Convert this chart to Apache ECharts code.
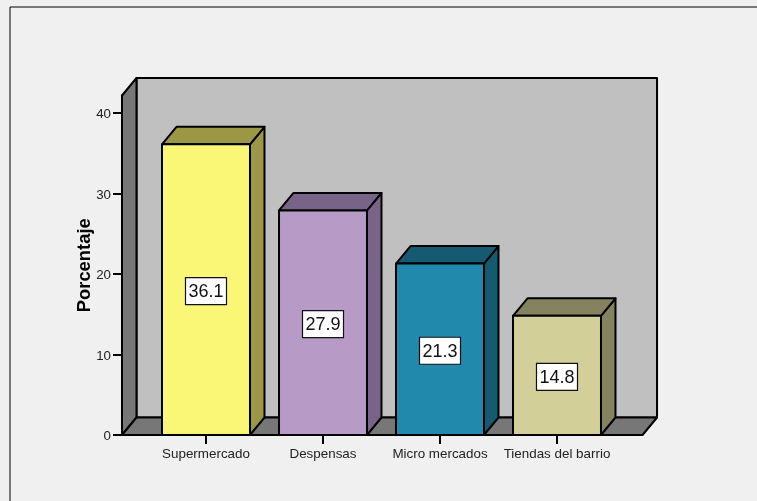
<!DOCTYPE html>
<html><head><meta charset="utf-8">
<style>html,body{margin:0;padding:0;background:#f0f0f0}#c{width:757px;height:501px}</style>
<script src="https://cdn.jsdelivr.net/npm/echarts@6/dist/echarts.min.js"></script>
</head><body><div id="c"></div>
<script>
const categories = ['Supermercado', 'Despensas', 'Micro mercados', 'Tiendas del barrio'];
const values = [36.1, 27.9, 21.3, 14.8];
const valueLabels = ['36.1', '27.9', '21.3', '14.8'];
const frontColors = ['#fbf776', '#b89ac7', '#2189ac', '#d3cf98'];
const sideColors = ['#9b9745', '#786488', '#165a72', '#84825f'];
const yMax = 42.17;
const DX = 14.5, DY = -17.5, BAR_FRAC = 0.752, LEFT_PAD = 0.718, RIGHT_PAD = 0.731;
const LW = 2, INK = '#000';

const chart = echarts.init(document.getElementById('c'), null, {renderer: 'canvas'});
const lineStyle = fill => ({fill, stroke: INK, lineWidth: LW, lineJoin: 'round'});
const poly = (points, fill) => ({type: 'polygon', shape: {points}, style: lineStyle(fill)});

function renderWalls(params, api) {
  const band = api.size([1, 0])[0];
  const o0 = api.coord([0, 0]), o3 = api.coord([3, 0]), t = api.coord([0, yMax]);
  const xl = o0[0] - LEFT_PAD * band, xr = o3[0] + RIGHT_PAD * band;
  const yb = o0[1], yt = t[1];
  return {type: 'group', children: [
    poly([[xl + DX, yb + DY], [xr + DX, yb + DY], [xr + DX, yt + DY], [xl + DX, yt + DY]], '#c0c0c0'),
    poly([[xl, yb], [xl + DX, yb + DY], [xl + DX, yt + DY], [xl, yt]], '#777777'),
    poly([[xl, yb], [xr, yb], [xr + DX, yb + DY], [xl + DX, yb + DY]], '#777777')
  ]};
}

function renderBar(params, api) {
  const i = api.value(0), v = api.value(1);
  const band = api.size([1, 0])[0];
  const base = api.coord([i, 0]), top = api.coord([i, v]);
  const w = band * BAR_FRAC, xl = base[0] - w / 2, xr = base[0] + w / 2;
  const yb = base[1], yt = top[1];
  return {type: 'group', children: [
    poly([[xr, yb], [xr + DX, yb + DY], [xr + DX, yt + DY], [xr, yt]], sideColors[i]),
    poly([[xl, yt], [xr, yt], [xr + DX, yt + DY], [xl + DX, yt + DY]], sideColors[i]),
    poly([[xl, yb], [xr, yb], [xr, yt], [xl, yt]], frontColors[i]),
    {type: 'rect', shape: {x: base[0] - 20.5, y: (yb + yt) / 2 - 12, width: 41, height: 27},
     style: {fill: '#fff', stroke: '#111', lineWidth: 1.2}},
    {type: 'text', x: base[0], y: (yb + yt) / 2 + 2.5,
     style: {text: valueLabels[i], fill: '#111', align: 'center', verticalAlign: 'middle',
             font: '18px "Liberation Sans", Arial, sans-serif'}}
  ]};
}

chart.setOption({
  animation: false,
  backgroundColor: '#f0f0f0',
  textStyle: {fontFamily: '"Liberation Sans", Arial, sans-serif'},
  grid: {left: 147.5, width: 468, top: 95.5, height: 339.5, containLabel: false},
  graphic: [{type: 'rect', z: -1, silent: true, shape: {x: 10, y: 7, width: 800, height: 600},
    style: {fill: 'none', stroke: '#000', lineWidth: 1}}],
  xAxis: {type: 'category', data: categories,
    axisLine: {show: false},
    axisTick: {show: true, alignWithLabel: true, length: 9, lineStyle: {color: INK, width: LW}},
    axisLabel: {color: '#222', fontSize: 13.4, margin: 13, interval: 0},
    z: 5},
  yAxis: {type: 'value', min: 0, max: yMax, interval: 10, offset: 25.5,
    name: 'Porcentaje', nameLocation: 'middle', nameGap: 28, nameMoveOverlap: false,
    nameTextStyle: {fontSize: 18.4, fontWeight: 'bold', color: '#000'},
    splitLine: {show: false},
    axisLine: {show: true, lineStyle: {color: INK, width: LW}},
    axisTick: {show: true, length: 9, lineStyle: {color: INK, width: LW}},
    axisLabel: {color: '#222', fontSize: 13.3, margin: 11, verticalAlign: 'top', lineHeight: 3,
      showMaxLabel: false, formatter: v => (v % 10 === 0 ? String(v) : '')},
    z: 5},
  series: [
    {type: 'custom', z: 1, silent: true, renderItem: renderWalls, data: [[0, 0]], encode: {x: 0, y: 1}},
    {type: 'custom', z: 2, silent: true, renderItem: renderBar,
     data: values.map((v, i) => [i, v]), encode: {x: 0, y: 1}}
  ]
});
</script></body></html>
